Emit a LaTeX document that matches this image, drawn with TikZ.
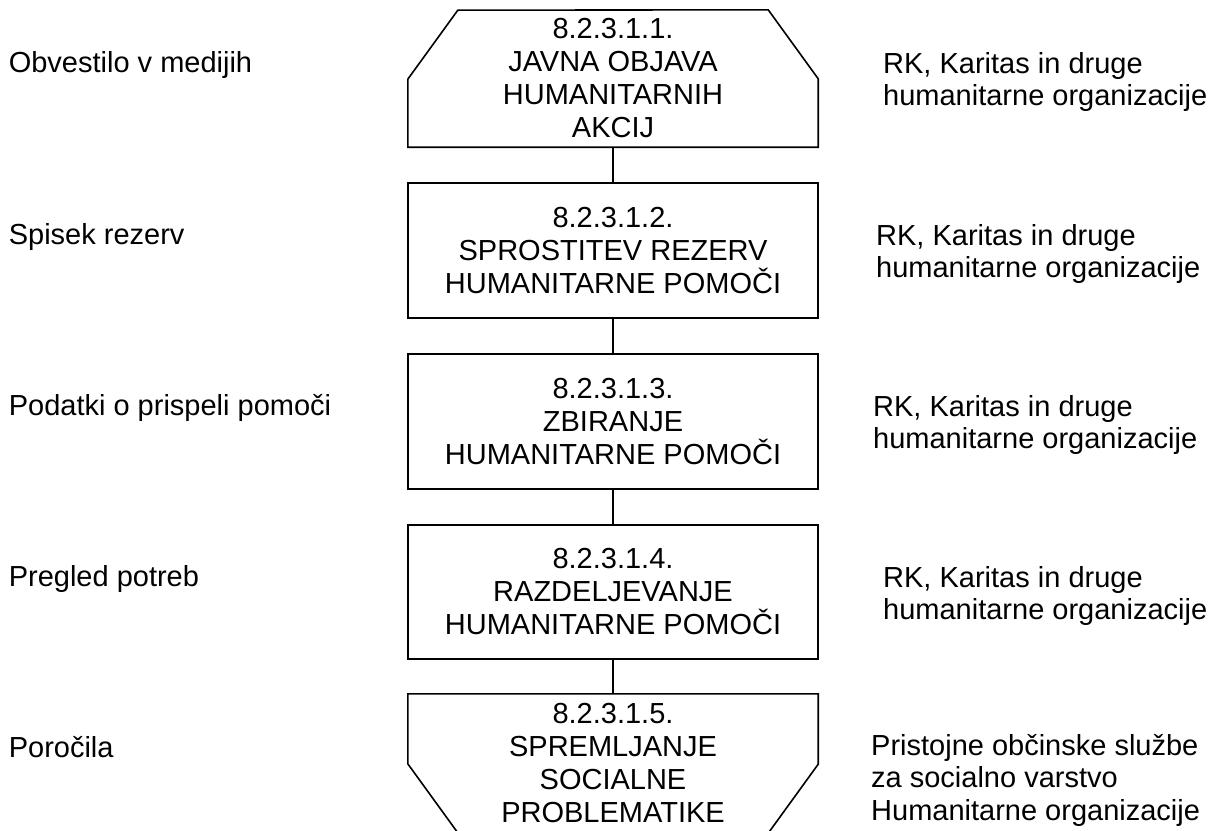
\documentclass[tikz,border=0pt]{standalone}
\usepackage{fontspec}
\setmainfont{Liberation Sans}
\begin{document}
\begin{tikzpicture}[x=1pt,y=-1pt,
  txt/.style={font=\fontsize{29}{33}\selectfont, inner sep=0pt, text=black},
  rtxt/.style={font=\fontsize{29}{32.5}\selectfont, inner sep=0pt, text=black, align=left, anchor=base west},
  ltxt/.style={txt, anchor=base west},
  outline/.style={draw=black, line width=1.6pt, line join=miter},
  stepbox/.style={txt, outline, minimum width=410pt, minimum height=135pt, align=center},
  shapebox/.style={txt, minimum width=410pt, minimum height=137pt, align=center},
  conn/.style={draw=black, line width=1.6pt}
]
\useasboundingbox (0,0) rectangle (1214,830);
\fill[white] (0,0) rectangle (1214,830);

% process nodes
\node[shapebox] (b1) at (613,78.5) {8.2.3.1.1.\\JAVNA OBJAVA\\HUMANITARNIH\\AKCIJ};
\draw[outline] (b1.south west) -- ++(0,-68) -- ++(50,-69) -- ([xshift=-50pt]b1.north east) -- ++(50,69) -- (b1.south east) -- cycle;

\node[stepbox] (b2) at (613,250.5) {8.2.3.1.2.\\SPROSTITEV REZERV\\HUMANITARNE POMOČI};
\node[stepbox] (b3) at (613,421.5) {8.2.3.1.3.\\ZBIRANJE\\HUMANITARNE POMOČI};
\node[stepbox, minimum height=134pt] (b4) at (613,592) {8.2.3.1.4.\\RAZDELJEVANJE\\HUMANITARNE POMOČI};

\node[shapebox, minimum height=139pt] (b5) at (613,763.5) {8.2.3.1.5.\\SPREMLJANJE\\SOCIALNE\\PROBLEMATIKE};
\draw[outline] (b5.north west) -- ++(0,70) -- ++(50,69) -- ([xshift=-50pt]b5.south east) -- ++(50,-69) -- (b5.north east) -- cycle;

% connectors
\draw[conn] (b1.south) -- (b2.north);
\draw[conn] (b2.south) -- (b3.north);
\draw[conn] (b3.south) -- (b4.north);
\draw[conn] (b4.south) -- (b5.north);

% left labels
\node[ltxt] (l1) at (8.6,72) {Obvestilo v medijih};
\node[ltxt] (l2) at (8.6,244) {Spisek rezerv};
\node[ltxt] (l3) at (8.6,415) {Podatki o prispeli pomoči};
\node[ltxt] (l4) at (8.6,586) {Pregled potreb};
\node[ltxt] (l5) at (8.6,757) {Poročila};

% right labels (base = baseline of last line)
\node[rtxt] (r1) at (883,105.5) {RK, Karitas in druge\\humanitarne organizacije};
\node[rtxt] (r2) at (876,277.5) {RK, Karitas in druge\\humanitarne organizacije};
\node[rtxt] (r3) at (873,448.5) {RK, Karitas in druge\\humanitarne organizacije};
\node[rtxt] (r4) at (883,619.5) {RK, Karitas in druge\\humanitarne organizacije};
\node[rtxt] (r5) at (871,820) {Pristojne občinske službe\\za socialno varstvo\\Humanitarne organizacije};
\end{tikzpicture}
\end{document}
